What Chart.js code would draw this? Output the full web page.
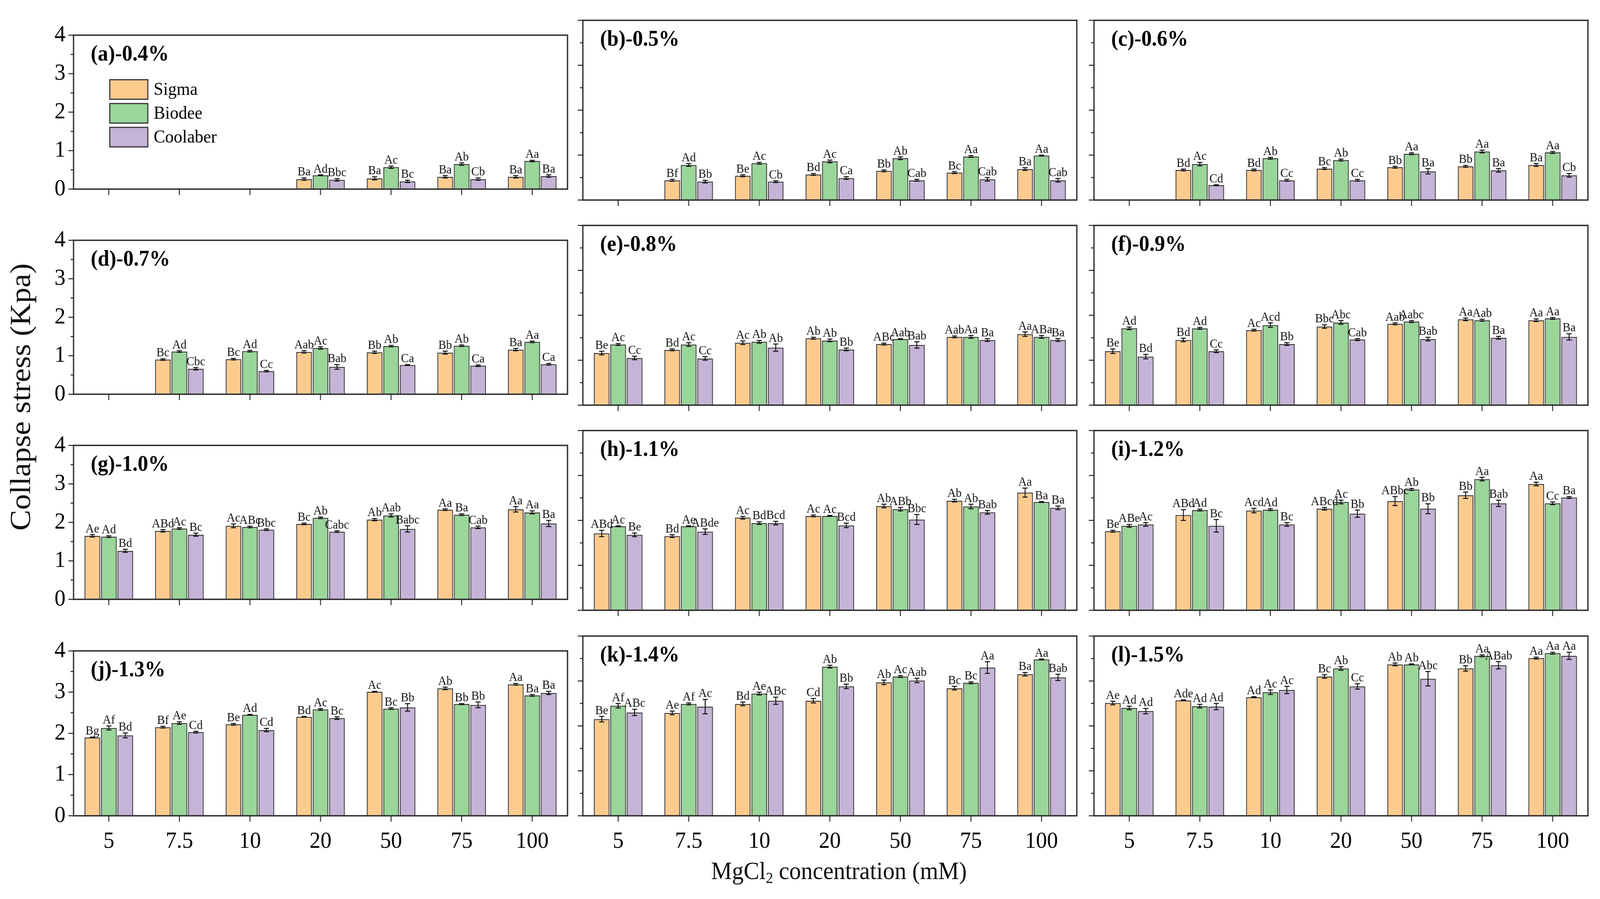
<!DOCTYPE html>
<html><head><meta charset="utf-8">
<script src="https://cdn.jsdelivr.net/npm/chart.js@4"></script>
<style>
html,body{margin:0;padding:0;background:#fff;overflow:hidden;}
#stage{position:absolute;left:0;top:0;width:4373px;height:2301px;transform-origin:0 0;background:#fff;font-family:"Liberation Serif","Times New Roman",serif;}
#stage canvas{position:absolute;}
#ytitle{position:absolute;left:56px;top:1016px;transform:translate(-50%,-50%) rotate(-90deg);font-size:80px;white-space:nowrap;color:#111;}
#xtitle{position:absolute;left:2293px;top:2231px;transform:translate(-50%,-50%);font-size:64px;white-space:nowrap;color:#111;}
#xtitle sub{font-size:0.62em;vertical-align:-0.25em;}
</style></head>
<body>
<div id="stage">
<div id="ytitle">Collapse stress (Kpa)</div>
<div id="xtitle">MgCl<sub>2</sub> concentration (mM)</div>
</div>
<script>
// ---------- DATA ----------
const categories = ['5','7.5','10','20','50','75','100'];
const panelTitles = ['(a)-0.4%','(b)-0.5%','(c)-0.6%','(d)-0.7%','(e)-0.8%','(f)-0.9%',
                     '(g)-1.0%','(h)-1.1%','(i)-1.2%','(j)-1.3%','(k)-1.4%','(l)-1.5%'];
const seriesNames = ['Sigma','Biodee','Coolaber'];
const yTickValues = [0,1,2,3,4];

const sigma = [
  [null,null,null,0.26,0.28,0.32,0.32],
  [null,0.44,0.54,0.57,0.65,0.61,0.69],
  [null,0.67,0.67,0.70,0.73,0.75,0.78],
  [null,0.90,0.91,1.10,1.09,1.08,1.16],
  [1.16,1.23,1.39,1.49,1.36,1.52,1.58],
  [1.20,1.45,1.67,1.75,1.81,1.91,1.89],
  [1.65,1.78,1.91,1.96,2.07,2.33,2.34],
  [1.71,1.65,2.06,2.10,2.32,2.44,2.62],
  [1.76,2.12,2.22,2.26,2.43,2.56,2.81],
  [1.90,2.15,2.22,2.40,3.01,3.09,3.19],
  [2.15,2.29,2.49,2.56,2.97,2.84,3.15],
  [2.51,2.57,2.64,3.10,3.37,3.28,3.51]
];
const biodee = [
  [null,null,null,0.36,0.57,0.65,0.73],
  [null,0.78,0.82,0.86,0.93,0.97,0.99],
  [null,0.80,0.93,0.89,1.03,1.08,1.06],
  [null,1.11,1.12,1.20,1.25,1.26,1.36],
  [1.35,1.35,1.41,1.44,1.47,1.52,1.52],
  [1.71,1.71,1.78,1.84,1.86,1.89,1.93],
  [1.63,1.84,1.88,2.12,2.18,2.20,2.26],
  [1.87,1.87,1.94,2.10,2.25,2.31,2.41],
  [1.88,2.23,2.24,2.41,2.69,2.92,2.38],
  [2.13,2.25,2.45,2.58,2.60,2.71,2.92],
  [2.45,2.49,2.72,3.32,3.10,2.96,3.48],
  [2.40,2.44,2.75,3.28,3.37,3.56,3.62]
];
const coolaber = [
  [null,null,null,0.24,0.20,0.26,0.34],
  [null,0.41,0.41,0.49,0.44,0.46,0.44],
  [null,0.33,0.44,0.44,0.64,0.66,0.55],
  [null,0.66,0.60,0.71,0.76,0.74,0.78],
  [1.05,1.04,1.28,1.24,1.34,1.45,1.45],
  [1.08,1.20,1.36,1.46,1.47,1.50,1.52],
  [1.26,1.68,1.81,1.76,1.83,1.87,1.97],
  [1.68,1.75,1.94,1.89,2.02,2.18,2.28],
  [1.91,1.88,1.91,2.15,2.26,2.38,2.51],
  [1.95,2.03,2.08,2.37,2.63,2.69,2.98],
  [2.30,2.43,2.56,2.88,3.01,3.30,3.08],
  [2.33,2.43,2.80,2.88,3.05,3.35,3.56]
];
const sigmaErr = [
  [0,0,0,0.03,0.04,0.03,0.03],
  [0,0.02,0.02,0.02,0.02,0.02,0.03],
  [0,0.02,0.02,0.02,0.02,0.02,0.03],
  [0,0.02,0.02,0.03,0.03,0.04,0.03],
  [0.04,0.02,0.04,0.02,0.02,0.02,0.05],
  [0.05,0.04,0.02,0.04,0.02,0.03,0.03],
  [0.03,0.03,0.05,0.02,0.03,0.02,0.07],
  [0.07,0.03,0.03,0.02,0.04,0.03,0.10],
  [0.02,0.12,0.05,0.03,0.10,0.07,0.04],
  [0.01,0.02,0.02,0.01,0.01,0.03,0.02],
  [0.06,0.04,0.04,0.05,0.05,0.04,0.04],
  [0.04,0.01,0.01,0.04,0.03,0.06,0.02]
];
const biodeeErr = [
  [0,0,0,0.01,0.03,0.03,0.02],
  [0,0.03,0.02,0.03,0.03,0.02,0.01],
  [0,0.04,0.02,0.02,0.02,0.03,0.02],
  [0,0.02,0.02,0.03,0.02,0.02,0.02],
  [0.02,0.04,0.03,0.03,0.01,0.03,0.03],
  [0.03,0.02,0.05,0.04,0.02,0.02,0.02],
  [0.02,0.02,0.02,0.02,0.04,0.02,0.04],
  [0.01,0.01,0.03,0.01,0.04,0.05,0.01],
  [0.03,0.02,0.02,0.04,0.02,0.04,0.03],
  [0.05,0.03,0.01,0.02,0.02,0.01,0.02],
  [0.05,0.02,0.03,0.03,0.02,0.02,0.01],
  [0.04,0.04,0.05,0.04,0.01,0.02,0.02]
];
const coolaberErr = [
  [0,0,0,0.03,0.03,0.03,0.03],
  [0,0.03,0.02,0.03,0.02,0.04,0.04],
  [0,0.01,0.02,0.02,0.06,0.04,0.04],
  [0,0.03,0.02,0.06,0.01,0.02,0.02],
  [0.04,0.04,0.08,0.03,0.07,0.03,0.03],
  [0.05,0.03,0.03,0.02,0.04,0.03,0.07],
  [0.04,0.04,0.02,0.02,0.08,0.03,0.08],
  [0.04,0.06,0.04,0.05,0.11,0.04,0.04],
  [0.04,0.14,0.04,0.08,0.11,0.07,0.02],
  [0.06,0.02,0.04,0.03,0.09,0.07,0.04],
  [0.07,0.16,0.08,0.05,0.05,0.13,0.07],
  [0.06,0.07,0.08,0.06,0.16,0.08,0.08]
];
const sigmaSig = [
  ['','','','Ba','Ba','Ba','Ba'],
  ['','Bf','Be','Bd','Bb','Bc','Ba'],
  ['','Bd','Bd','Bc','Bb','Bb','Ba'],
  ['','Bc','Bc','Aab','Bb','Bb','Ba'],
  ['Be','Bd','Ac','Ab','ABc','Aab','Aa'],
  ['Be','Bd','Ac','Bbc','Aab','Aa','Aa'],
  ['Ae','ABd','Ac','Bc','Ab','Aa','Aa'],
  ['ABd','Bd','Ac','Ac','Ab','Ab','Aa'],
  ['Be','ABd','Acd','ABcd','ABbc','Bb','Aa'],
  ['Bg','Bf','Be','Bd','Ac','Ab','Aa'],
  ['Be','Ae','Bd','Cd','Ab','Bc','Ba'],
  ['Ae','Ade','Ad','Bc','Ab','Bb','Aa']
];
const biodeeSig = [
  ['','','','Ad','Ac','Ab','Aa'],
  ['','Ad','Ac','Ac','Ab','Aa','Aa'],
  ['','Ac','Ab','Ab','Aa','Aa','Aa'],
  ['','Ad','Ad','Ac','Ab','Ab','Aa'],
  ['Ac','Ac','Ab','Ab','Aab','Aa','ABa'],
  ['Ad','Ad','Acd','Abc','Aabc','Aab','Aa'],
  ['Ad','Ac','ABc','Ab','Aab','Ba','Aa'],
  ['Ac','Ae','Bd','Ac','ABb','Ab','Ba'],
  ['ABe','Ad','Ad','Ac','Ab','Aa','Cc'],
  ['Af','Ae','Ad','Ac','Bc','Bb','Ba'],
  ['Af','Af','Ae','Ab','Ac','Bc','Aa'],
  ['Ad','Ad','Ac','Ab','Ab','Aa','Aa']
];
const coolaberSig = [
  ['','','','Bbc','Bc','Cb','Ba'],
  ['','Bb','Cb','Ca','Cab','Cab','Cab'],
  ['','Cd','Cc','Cc','Ba','Ba','Cb'],
  ['','Cbc','Cc','Bab','Ca','Ca','Ca'],
  ['Cc','Cc','Ab','Bb','Bab','Ba','Ba'],
  ['Bd','Cc','Bb','Cab','Bab','Ba','Ba'],
  ['Bd','Bc','Bbc','Cabc','Babc','Cab','Ba'],
  ['Be','ABde','Bcd','Bcd','Bbc','Bab','Ba'],
  ['Ac','Bc','Bc','Bb','Bb','Bab','Ba'],
  ['Bd','Cd','Cd','Bc','Bb','Bb','Ba'],
  ['ABc','Ac','ABc','Bb','Aab','Aa','Bab'],
  ['Ad','Ad','Ac','Cc','Abc','ABab','Aa']
];

// ---------- STYLE / LAYOUT ----------
const seriesColors = ['#FECB8F','#9AD59A','#C5B4D7'];
const FONT = '"Liberation Serif","Times New Roman",serif';
const COL_LEFT = [201, 1593, 2990];
const COL_W = 1350;
const ROW_TOP = [52, 577, 1102, 1628];
const ROW_H = 460;
const YW = 200, PADT = 20, PADR = 20;

// map the 4373x2301 design onto the viewport the browser really has
const stage = document.getElementById('stage');
const KX = (window.innerWidth / 4373) || 1;
const KY = (window.innerHeight / 2301) || 1;
stage.style.transform = 'scale(' + KX + ',' + KY + ')';
const DPR = Math.max(KX, KY) * (window.devicePixelRatio || 1);

const decor = {
  id: 'decor',
  afterDatasetsDraw(chart) {
    const ctx = chart.ctx, ys = chart.scales.y;
    ctx.save();
    chart.data.datasets.forEach((ds, di) => {
      const meta = chart.getDatasetMeta(di);
      meta.data.forEach((el, j) => {
        const v = ds.data[j];
        if (v == null) return;
        const e = ds.errors[j] || 0;
        const yT = ys.getPixelForValue(v + e), yB = ys.getPixelForValue(v - e);
        ctx.strokeStyle = '#111'; ctx.lineWidth = 2.5;
        ctx.beginPath();
        ctx.moveTo(el.x, yB); ctx.lineTo(el.x, yT);
        ctx.moveTo(el.x - 7, yT); ctx.lineTo(el.x + 7, yT);
        ctx.moveTo(el.x - 7, yB); ctx.lineTo(el.x + 7, yB);
        ctx.stroke();
        ctx.fillStyle = '#111';
        ctx.font = '32px ' + FONT;
        ctx.textAlign = 'center'; ctx.textBaseline = 'alphabetic';
        ctx.fillText(ds.letters[j], el.x, yT - 6);
      });
    });
    ctx.restore();
  },
  afterDraw(chart) {
    const ctx = chart.ctx, a = chart.chartArea, ys = chart.scales.y, xs = chart.scales.x;
    const p = chart.options.plugins.decor;
    ctx.save();
    ctx.strokeStyle = '#2a2a2a'; ctx.lineWidth = 3.5;
    ctx.strokeRect(a.left, a.top, a.right - a.left, a.bottom - a.top);
    ctx.lineWidth = 2.5; ctx.strokeStyle = '#222';
    ctx.beginPath();
    for (let k = 0; k <= 8; k++) {
      const v = k / 2, y = ys.getPixelForValue(v), L = (k % 2 === 0) ? 14 : 8;
      ctx.moveTo(a.left - L, y); ctx.lineTo(a.left, y);
    }
    for (let i = 0; i < categories.length; i++) {
      const x = xs.getPixelForValue(i);
      ctx.moveTo(x, a.bottom); ctx.lineTo(x, a.bottom + 15);
    }
    ctx.stroke();
    ctx.fillStyle = '#000';
    ctx.font = 'bold 57px ' + FONT;
    ctx.textAlign = 'left'; ctx.textBaseline = 'middle';
    ctx.fillText(p.title, a.left + 47, a.top + 50);
    if (p.legend) {
      chart.data.datasets.forEach((ds, i) => {
        const cy = a.top + 139 + i * 61;
        ctx.fillStyle = ds.backgroundColor;
        ctx.fillRect(a.left + 99, cy - 25, 104, 50);
        ctx.strokeStyle = '#333'; ctx.lineWidth = 3;
        ctx.strokeRect(a.left + 99, cy - 25, 104, 50);
        ctx.fillStyle = '#000';
        ctx.font = '47px ' + FONT;
        ctx.textBaseline = 'middle';
        ctx.fillText(ds.label, a.left + 219, cy + 2);
      });
    }
    ctx.restore();
  }
};

const seriesVals = [sigma, biodee, coolaber];
const seriesErrs = [sigmaErr, biodeeErr, coolaberErr];
const seriesSigs = [sigmaSig, biodeeSig, coolaberSig];

for (let p = 0; p < 12; p++) {
  const col = p % 3, row = Math.floor(p / 3);
  const XH = row === 3 ? 110 : 30;
  const cv = document.createElement('canvas');
  const W = YW + COL_W + PADR, H = PADT + ROW_H + XH;
  cv.width = W; cv.height = H;
  cv.style.left = (COL_LEFT[col] - YW) + 'px';
  cv.style.top = (ROW_TOP[row] - PADT) + 'px';
  cv.style.width = W + 'px'; cv.style.height = H + 'px';
  stage.appendChild(cv);
  new Chart(cv, {
    type: 'bar',
    data: {
      labels: categories,
      datasets: seriesNames.map((name, s) => ({
        label: name,
        data: seriesVals[s][p],
        errors: seriesErrs[s][p],
        letters: seriesSigs[s][p],
        backgroundColor: seriesColors[s],
        borderColor: '#333',
        borderWidth: 2.5,
        categoryPercentage: 0.70,
        barPercentage: 0.95
      }))
    },
    options: {
      responsive: false, animation: false, devicePixelRatio: DPR,
      layout: { padding: { top: PADT, right: PADR, left: 0, bottom: 0 } },
      plugins: { legend: { display: false }, tooltip: { enabled: false },
                 decor: { title: panelTitles[p], legend: p === 0 } },
      scales: {
        x: {
          type: 'category', offset: true,
          grid: { display: false, drawTicks: false }, border: { display: false },
          ticks: { display: row === 3, padding: 30, color: '#000', font: { family: FONT, size: 60 } },
          afterFit: s => { s.height = XH; }
        },
        y: {
          min: 0, max: 4,
          grid: { display: false, drawTicks: false }, border: { display: false },
          ticks: { display: col === 0, stepSize: 1, padding: 22, color: '#000',
                   font: { family: FONT, size: 60 } },
          afterBuildTicks: s => { s.ticks = yTickValues.map(v => ({ value: v })); },
          afterFit: s => { s.width = YW; }
        }
      }
    },
    plugins: [decor]
  });
}
</script>
</body></html>
